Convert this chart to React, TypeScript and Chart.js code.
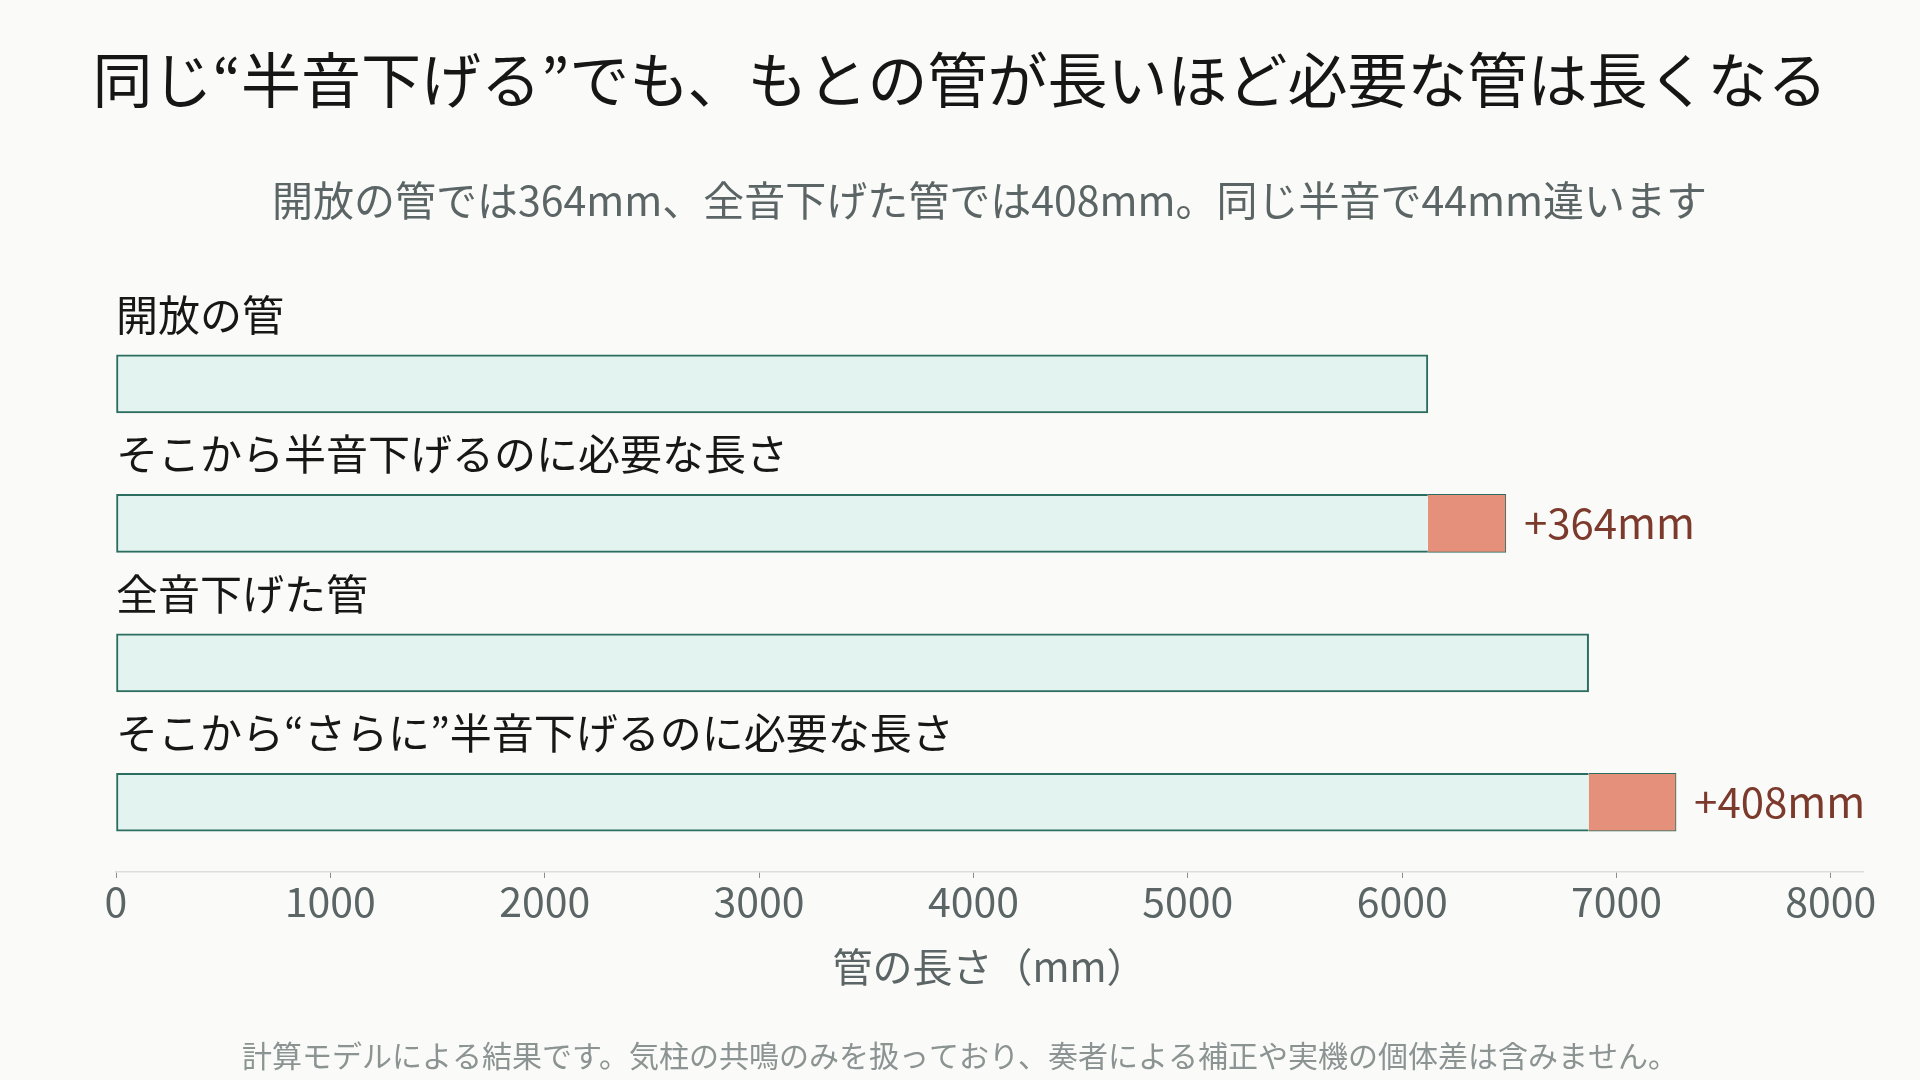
import React, { useEffect, useRef } from 'react';
import { Chart, registerables } from 'chart.js';

Chart.register(...registerables);

// rows of the chart (read top to bottom)
const categories = [
  '開放の管',
  'そこから半音下げるのに必要な長さ',
  '全音下げた管',
  'そこから“さらに”半音下げるのに必要な長さ',
];
// tube length before lowering (mm)
const baseLengths = [6120, 6120, 6870, 6870];
// extra tube needed for one semitone (mm), null = no extra segment
const addedLengths = [null, 364, null, 408];

// x axis
const X_MAX = 8150;
const xTickValues = [0, 1000, 2000, 3000, 4000, 5000, 6000, 7000, 8000];

const TITLE = '同じ“半音下げる”でも、もとの管が長いほど必要な管は長くなる';
const SUBTITLE = '開放の管では364mm、全音下げた管では408mm。同じ半音で44mm違います';
const X_TITLE = '管の長さ（mm）';
const FOOTNOTE = '計算モデルによる結果です。気柱の共鳴のみを扱っており、奏者による補正や実機の個体差は含みません。';

const FONT = '"Noto Sans CJK JP", "Noto Sans", sans-serif';
const BG = '#fafaf8';
const GREEN = '#2b6d5e';
const MINT = '#e3f4f0';
const SALMON = '#e5907a';
const BROWN = '#7b3a2c';
const GREY = '#5b6565';

// draws the page title, the row names above the bars, the "+xxxmm" notes and the footnote
const annotationPlugin = {
  id: 'annotations',
  afterDatasetsDraw(chart: any) {
    const { ctx, chartArea, scales } = chart;
    const xs = scales.x;
    const ys = scales.y;
    ctx.save();
    ctx.textBaseline = 'middle';

    // title is centred on the whole canvas, not on the plot
    ctx.textAlign = 'center';
    ctx.font = `60px ${FONT}`;
    ctx.fillStyle = '#161616';
    ctx.fillText(TITLE, chart.width / 2, 80);

    ctx.textAlign = 'left';
    ctx.font = `42px ${FONT}`;
    ctx.fillStyle = '#171717';
    categories.forEach((name, i) => {
      ctx.fillText(name, chartArea.left, ys.getPixelForValue(i) - 69);
    });
    ctx.fillStyle = BROWN;
    addedLengths.forEach((v, i) => {
      if (v == null) return;
      const end = xs.getPixelForValue(baseLengths[i] + v);
      ctx.fillText(`+${v}mm`, end + 18, ys.getPixelForValue(i));
    });

    ctx.font = `30px ${FONT}`;
    ctx.fillStyle = '#8b9393';
    ctx.textAlign = 'center';
    ctx.fillText(FOOTNOTE, chart.width / 2, chart.height - 24);
    ctx.restore();
  },
};

const App: React.FC = () => {
  const canvasRef = useRef<HTMLCanvasElement>(null);
  const chartRef = useRef<Chart | null>(null);

  useEffect(() => {
    if (chartRef.current) chartRef.current.destroy();
    if (!canvasRef.current) return;
    const ctx = canvasRef.current.getContext('2d');
    if (!ctx) return;

    Chart.defaults.font.family = FONT;

    chartRef.current = new Chart(ctx, {
      type: 'bar',
      data: {
        labels: categories,
        datasets: [
          {
            label: 'base',
            data: baseLengths,
            backgroundColor: MINT,
            borderColor: GREEN,
            borderWidth: 2,
            borderSkipped: (c: any) => (addedLengths[c.dataIndex] != null ? 'end' : false),
            barThickness: 58,
          },
          {
            label: 'added',
            data: addedLengths,
            backgroundColor: SALMON,
            borderColor: GREEN,
            borderWidth: 1,
            borderSkipped: 'start',
            barThickness: 58,
          },
        ],
      },
      options: {
        indexAxis: 'y',
        animation: false,
        responsive: true,
        maintainAspectRatio: false,
        layout: { padding: { left: 116, right: 57, top: 0, bottom: 85 } },
        plugins: {
          legend: { display: false },
          tooltip: { enabled: false },
          title: { display: false },
          subtitle: {
            display: true,
            text: SUBTITLE,
            color: GREY,
            font: { size: 41, weight: 'normal', lineHeight: 1.2 },
            padding: { top: 176, bottom: 89 },
          },
        },
        scales: {
          x: {
            type: 'linear',
            stacked: true,
            min: 0,
            max: X_MAX,
            afterBuildTicks: (scale: any) => {
              scale.ticks = xTickValues.map((value) => ({ value }));
            },
            grid: { drawOnChartArea: false, drawTicks: true, tickLength: 6, color: '#8a8f8f' },
            border: { display: true, color: '#dddddd', width: 1.5 },
            ticks: {
              padding: 3,
              color: GREY,
              font: { size: 41, lineHeight: 1 },
              callback: (v: any) => String(v),
            },
            title: {
              display: true,
              text: X_TITLE,
              color: GREY,
              font: { size: 40, lineHeight: 1.2 },
              padding: { top: 18, bottom: 4 },
            },
          },
          y: {
            type: 'category',
            stacked: true,
            display: false,
          },
        },
      },
      plugins: [annotationPlugin],
    });

    return () => {
      if (chartRef.current) {
        chartRef.current.destroy();
        chartRef.current = null;
      }
    };
  }, []);

  return (
    <div style={{ position: 'fixed', left: 0, top: 0, width: 1920, height: 1080, background: BG }}>
      <canvas ref={canvasRef}></canvas>
    </div>
  );
};

export default App;
